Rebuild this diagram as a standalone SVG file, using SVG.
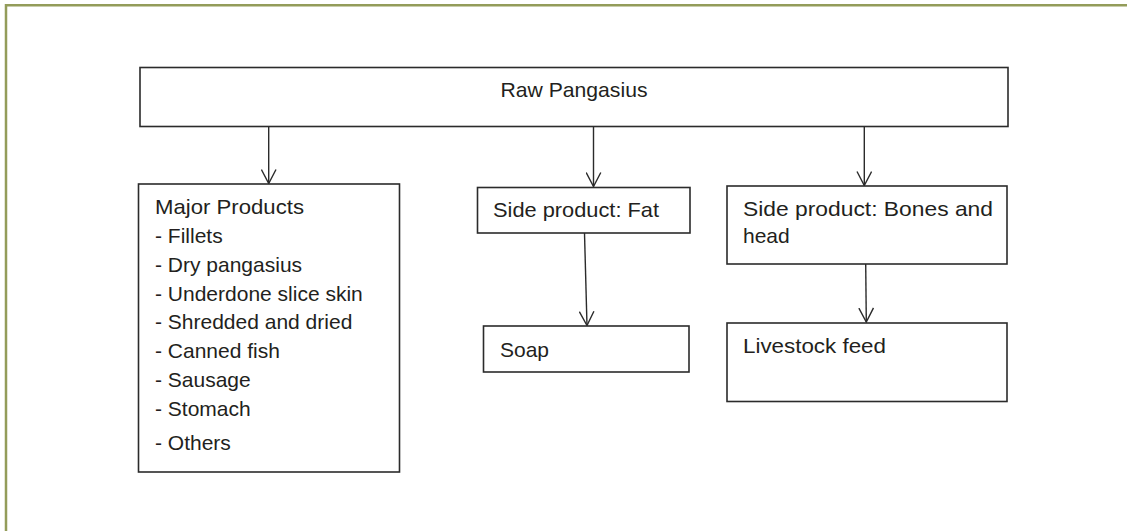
<svg xmlns="http://www.w3.org/2000/svg" width="1127" height="531" viewBox="0 0 1127 531">
  <style>
    .box { fill: #ffffff; stroke: #2b2b2b; stroke-width: 1.6; }
    .lbl { font-family: "Liberation Sans", Arial, sans-serif; font-size: 21px; fill: #231f20; }
    .mid { text-anchor: middle; }
    .conn { stroke: #2b2b2b; stroke-width: 1.4; fill: none; marker-end: url(#open); }
    .frame { stroke: #939c5a; stroke-width: 2.5; fill: none; }
  </style>
  <defs>
    <!-- open V arrowhead -->
    <marker id="open" viewBox="0 0 16 16" refX="14.5" refY="8" markerWidth="16" markerHeight="16" markerUnits="userSpaceOnUse" orient="auto">
      <path d="M0.5,0.7 L14.5,8 L0.5,15.3" fill="none" stroke="#2b2b2b" stroke-width="1.4"/>
    </marker>
  </defs>

  <rect width="1127" height="531" fill="#ffffff"/>
  <!-- outer frame: top and left rules -->
  <path class="frame" d="M6,531 V5.3 H1127"/>

  <g id="connectors">
    <path class="conn" d="M268.7,126.5 V183.5"/>
    <path class="conn" d="M593.5,126.5 V186.5"/>
    <path class="conn" d="M864.3,126.5 V185.5"/>
    <path class="conn" d="M584.5,233 L587,325.5"/>
    <path class="conn" d="M865.7,263.5 L866.3,322"/>
  </g>

  <g id="raw">
    <rect class="box" x="140" y="67.5" width="868" height="59"/>
    <text class="lbl mid" x="574" y="96.5" textLength="147" lengthAdjust="spacingAndGlyphs">Raw Pangasius</text>
  </g>

  <g id="major">
    <rect class="box" x="138.5" y="184" width="261" height="288"/>
    <text class="lbl">
      <tspan x="155" y="214.3" textLength="149" lengthAdjust="spacingAndGlyphs">Major Products</tspan>
      <tspan x="155" y="243.3">- Fillets</tspan>
      <tspan x="155" y="271.7">- Dry pangasius</tspan>
      <tspan x="155" y="300.7">- Underdone slice skin</tspan>
      <tspan x="155" y="329.3">- Shredded and dried</tspan>
      <tspan x="155" y="358.3">- Canned fish</tspan>
      <tspan x="155" y="387.3">- Sausage</tspan>
      <tspan x="155" y="416">- Stomach</tspan>
      <tspan x="155" y="450">- Others</tspan>
    </text>
  </g>

  <g id="fat">
    <rect class="box" x="477.5" y="187.5" width="212.5" height="45.5"/>
    <text class="lbl" x="493" y="217" textLength="166" lengthAdjust="spacingAndGlyphs">Side product: Fat</text>
  </g>

  <g id="soap">
    <rect class="box" x="483.5" y="326" width="205.5" height="46"/>
    <text class="lbl" x="500" y="357">Soap</text>
  </g>

  <g id="bones">
    <rect class="box" x="727" y="186" width="280" height="78"/>
    <text class="lbl">
      <tspan x="743" y="216" textLength="250" lengthAdjust="spacingAndGlyphs">Side product: Bones and</tspan>
      <tspan x="743" y="243">head</tspan>
    </text>
  </g>

  <g id="feed">
    <rect class="box" x="727" y="323" width="280" height="78.5"/>
    <text class="lbl" x="743" y="353" textLength="143" lengthAdjust="spacingAndGlyphs">Livestock feed</text>
  </g>
</svg>
